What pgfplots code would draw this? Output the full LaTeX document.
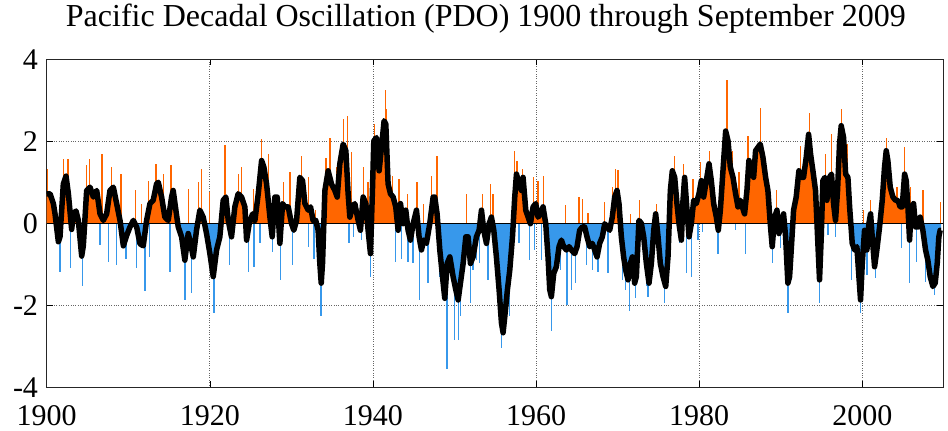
\documentclass[border=0pt]{standalone}
\usepackage{fontspec}
\setmainfont{Liberation Serif}
\usepackage{pgfplots}
\usepackage{pgfplotstable}
\pgfplotsset{compat=1.18}

\definecolor{pdoorange}{RGB}{255,102,0}
\definecolor{pdoblue}{RGB}{55,152,235}

% smoothed PDO index (black curve)
\pgfplotstableread{
year v
1900.00 0.72
1900.41 0.72
1900.82 0.48
1901.02 0.23
1901.43 -0.45
1901.63 -0.33
1902.04 0.96
1902.37 1.15
1902.66 0.72
1903.06 -0.15
1903.27 0.23
1903.59 0.30
1903.88 0.07
1904.29 -0.80
1904.49 -0.55
1904.90 0.80
1905.31 0.88
1905.72 0.64
1906.13 0.80
1906.54 0.23
1906.94 0.07
1907.35 0.23
1907.76 0.80
1908.17 0.88
1908.58 0.48
1908.99 0.07
1909.40 -0.55
1909.80 -0.30
1910.21 -0.09
1910.62 0.07
1911.03 -0.09
1911.44 -0.50
1911.84 -0.55
1912.25 0.07
1912.66 0.48
1913.06 0.56
1913.47 0.96
1913.68 1.00
1914.09 0.64
1914.49 0.15
1914.90 0.07
1915.31 0.64
1915.51 0.80
1915.84 0.32
1916.13 -0.09
1916.54 -0.33
1916.94 -0.90
1917.35 -0.25
1917.56 -0.41
1917.97 -0.82
1918.37 -0.17
1918.78 0.32
1919.19 0.15
1919.60 -0.25
1920.01 -0.74
1920.42 -1.30
1920.83 -0.65
1921.23 -0.33
1921.64 0.56
1921.97 0.64
1922.26 0.07
1922.66 -0.33
1923.07 0.40
1923.48 0.72
1923.89 0.64
1924.30 0.40
1924.51 -0.41
1924.83 -0.01
1925.24 0.23
1925.53 0.07
1925.94 0.72
1926.35 1.53
1926.63 1.37
1926.96 0.96
1927.37 0.15
1927.65 -0.33
1927.98 0.64
1928.26 0.64
1928.59 -0.49
1928.92 0.48
1929.20 0.40
1929.61 0.40
1930.02 -0.01
1930.30 -0.17
1930.64 0.07
1931.04 1.12
1931.37 1.04
1931.66 0.48
1932.07 0.32
1932.35 0.40
1932.66 0.07
1932.99 0.07
1933.28 -0.17
1933.49 -0.98
1933.66 -1.46
1933.82 -0.98
1934.11 0.80
1934.51 1.28
1934.92 0.96
1935.33 0.80
1935.62 0.64
1935.94 1.45
1936.35 1.93
1936.68 1.77
1936.96 0.72
1937.17 0.15
1937.49 0.40
1937.78 0.48
1938.19 0.07
1938.47 -0.17
1938.80 0.64
1939.13 0.48
1939.41 -0.17
1939.70 -0.74
1939.94 0.80
1940.11 2.01
1940.43 2.09
1940.76 1.28
1941.05 1.85
1941.37 2.50
1941.58 2.42
1941.86 0.96
1942.15 0.72
1942.48 0.64
1942.80 0.40
1943.09 -0.17
1943.38 0.48
1943.70 -0.01
1944.03 0.32
1944.31 -0.17
1944.60 -0.41
1944.93 -0.01
1945.34 0.32
1945.66 -0.33
1945.95 -0.65
1946.23 -0.41
1946.56 -0.49
1946.97 -0.01
1947.38 0.64
1947.58 0.64
1947.87 0.23
1948.20 -0.65
1948.53 -1.30
1948.81 -1.83
1949.10 -0.98
1949.43 -0.82
1949.83 -1.30
1950.16 -1.62
1950.45 -1.87
1950.73 -1.46
1951.06 -0.98
1951.39 -0.33
1951.67 -0.33
1951.96 -0.98
1952.28 -0.82
1952.69 -0.33
1953.02 -0.17
1953.31 0.32
1953.59 -0.17
1953.92 -0.49
1954.25 -0.01
1954.53 0.15
1954.82 -0.17
1955.14 -0.82
1955.47 -1.62
1955.76 -2.43
1955.96 -2.67
1956.17 -2.27
1956.49 -1.62
1956.78 -1.14
1957.11 -0.33
1957.39 0.64
1957.60 1.20
1957.92 0.96
1958.21 0.80
1958.41 1.12
1958.74 0.32
1959.03 0.15
1959.31 -0.01
1959.64 0.40
1959.96 0.48
1960.25 0.15
1960.54 0.23
1960.86 0.40
1961.19 -0.01
1961.47 -0.82
1961.68 -1.62
1961.88 -1.79
1962.17 -1.22
1962.49 -1.06
1962.82 -0.57
1963.11 -0.41
1963.39 -0.57
1963.72 -0.65
1964.05 -0.57
1964.33 -0.65
1964.74 -0.74
1965.03 -0.57
1965.35 -0.17
1965.68 -0.09
1965.96 -0.09
1966.25 -0.33
1966.58 -0.57
1966.90 -0.49
1967.19 -0.65
1967.48 -0.82
1967.80 -0.49
1968.13 -0.33
1968.42 -0.01
1968.70 -0.09
1969.03 -0.17
1969.35 0.15
1969.64 0.64
1969.93 0.80
1970.17 0.48
1970.46 -0.33
1970.74 -0.82
1970.99 -1.14
1971.28 -1.38
1971.56 -0.98
1971.81 -0.82
1972.09 -1.46
1972.30 -1.30
1972.62 0.07
1972.91 0.00
1973.20 -0.33
1973.53 -0.98
1973.85 -1.46
1974.14 -0.98
1974.43 -0.17
1974.67 0.23
1974.96 -0.33
1975.24 -0.98
1975.57 -1.30
1975.90 -1.54
1976.18 -0.82
1976.47 0.80
1976.71 1.28
1977.00 1.12
1977.28 0.48
1977.53 -0.01
1977.82 -0.41
1978.02 0.56
1978.22 1.12
1978.51 0.32
1978.76 -0.33
1979.04 -0.01
1979.33 0.56
1979.65 0.48
1979.98 0.72
1980.27 1.04
1980.55 0.64
1980.88 1.04
1981.21 1.45
1981.49 1.04
1981.78 0.48
1982.11 0.15
1982.35 -0.17
1982.60 0.32
1982.92 1.28
1983.25 2.25
1983.54 2.01
1983.82 1.37
1984.15 1.12
1984.47 0.72
1984.76 0.40
1985.05 0.56
1985.29 0.40
1985.57 0.23
1985.86 0.80
1986.10 1.53
1986.39 1.37
1986.68 1.12
1986.92 1.77
1987.21 1.85
1987.49 1.93
1987.82 1.61
1988.15 1.12
1988.43 0.80
1988.72 -0.01
1988.96 -0.57
1989.25 0.15
1989.54 0.32
1989.78 -0.25
1990.07 -0.01
1990.35 0.23
1990.60 -0.33
1990.88 -1.46
1991.09 -1.30
1991.29 -0.65
1991.58 0.32
1991.90 0.64
1992.23 1.28
1992.52 1.12
1992.80 1.12
1993.13 1.61
1993.42 2.17
1993.66 1.69
1993.95 1.28
1994.27 0.80
1994.52 -0.33
1994.76 -1.38
1994.97 -0.33
1995.17 1.04
1995.42 1.12
1995.66 0.56
1995.99 1.12
1996.23 1.20
1996.48 0.48
1996.72 0.07
1996.97 0.80
1997.21 1.93
1997.42 2.38
1997.71 2.09
1997.96 1.20
1998.24 1.12
1998.45 0.40
1998.77 -0.49
1999.06 -0.65
1999.34 -0.57
1999.59 -1.30
1999.79 -1.87
2000.00 -0.98
2000.28 -0.17
2000.57 -0.65
2000.81 -0.01
2001.02 0.23
2001.22 -0.33
2001.51 -1.06
2001.79 -0.65
2002.12 -0.09
2002.45 0.56
2002.73 1.37
2002.94 1.77
2003.14 1.53
2003.43 0.88
2003.76 0.64
2004.08 0.56
2004.37 0.56
2004.65 0.40
2004.90 0.40
2005.19 1.20
2005.39 1.04
2005.60 0.40
2005.80 -0.41
2006.00 0.32
2006.29 0.48
2006.53 -0.09
2006.82 -0.09
2007.10 0.15
2007.43 -0.17
2007.76 -0.65
2008.04 -0.90
2008.33 -1.30
2008.66 -1.54
2008.94 -1.46
2009.19 -0.98
2009.39 -0.33
2009.55 -0.17
2009.67 -0.17
}\smoothpdo

% monthly peaks above zero (orange spikes)
\pgfplotstableread{
year v
1900.10 1.33
1902.05 1.57
1902.60 1.57
1904.90 1.41
1905.25 1.57
1906.78 1.69
1907.97 1.37
1909.10 1.20
1910.85 0.80
1911.64 0.48
1912.46 1.04
1913.40 1.45
1914.29 1.20
1915.23 1.41
1917.35 0.84
1918.58 1.00
1918.99 1.33
1919.93 0.76
1921.85 1.90
1923.48 1.20
1923.89 1.37
1925.32 0.84
1926.35 2.05
1927.16 1.69
1929.00 1.00
1929.82 1.24
1931.25 1.65
1932.06 1.13
1933.00 0.32
1934.23 1.60
1934.72 2.09
1935.54 1.37
1936.43 2.54
1936.84 2.62
1937.37 1.73
1938.88 1.37
1939.41 1.00
1940.23 2.42
1941.54 3.26
1941.66 2.78
1942.39 1.16
1943.21 1.08
1944.23 0.72
1945.42 1.00
1946.23 0.48
1947.17 1.16
1947.87 1.65
1951.47 0.72
1953.43 0.72
1954.41 0.96
1954.74 0.72
1957.39 1.77
1957.68 1.53
1958.33 1.33
1959.72 1.12
1960.25 1.04
1960.95 1.16
1963.64 0.44
1965.27 0.64
1965.68 0.60
1966.37 0.25
1968.42 0.52
1969.36 0.88
1969.76 1.33
1970.05 1.29
1971.56 0.22
1972.71 0.56
1974.75 0.48
1977.00 1.65
1978.10 1.45
1979.25 1.08
1980.14 1.49
1981.29 1.77
1982.51 0.88
1983.41 3.50
1984.07 1.77
1984.88 1.24
1985.99 2.13
1987.49 2.82
1988.15 1.41
1989.45 0.80
1992.39 1.89
1993.54 2.70
1995.50 1.69
1996.19 2.17
1997.42 2.78
1998.11 1.93
2000.16 0.32
2000.98 0.56
2002.04 0.23
2002.94 2.09
2004.25 0.88
2005.19 1.85
2005.88 0.88
2007.43 0.80
2009.56 0.52
}\pospeaks

% monthly troughs below zero (blue spikes)
\pgfplotstableread{
year v
1901.63 -1.18
1902.94 -1.10
1904.41 -1.54
1906.54 -0.53
1907.56 -0.94
1908.58 -1.02
1909.72 -0.86
1911.03 -1.10
1912.05 -1.65
1912.58 -0.82
1915.11 -1.18
1916.94 -1.87
1917.76 -1.70
1920.50 -2.19
1922.38 -1.02
1924.71 -1.20
1925.41 -1.06
1926.14 -0.49
1927.69 -0.69
1928.67 -1.38
1930.14 -1.02
1932.06 -0.57
1932.76 -0.86
1933.62 -2.27
1937.05 -0.49
1937.66 -0.33
1938.60 -0.41
1939.70 -1.30
1942.80 -0.94
1943.50 -0.86
1944.31 -0.94
1944.93 -0.98
1945.74 -1.87
1946.77 -1.46
1948.20 -1.30
1949.09 -3.56
1950.04 -2.84
1950.45 -2.84
1950.73 -2.27
1951.96 -1.95
1952.28 -1.14
1952.69 -0.90
1953.10 -0.98
1954.12 -1.38
1955.76 -3.04
1956.78 -2.27
1957.92 -0.49
1959.23 -0.90
1959.84 -0.65
1960.66 -0.90
1961.88 -2.63
1962.29 -1.38
1962.98 -1.14
1963.80 -1.99
1964.33 -1.62
1964.86 -1.46
1966.17 -1.02
1966.90 -1.14
1967.60 -1.18
1968.82 -1.22
1970.58 -1.38
1970.99 -1.62
1971.48 -2.15
1972.21 -1.83
1973.60 -1.54
1973.73 -1.79
1975.77 -1.95
1977.61 -0.49
1978.43 -1.22
1979.04 -1.30
1979.86 -0.41
1980.39 -0.21
1982.31 -0.74
1984.47 -0.17
1985.70 -0.74
1988.96 -0.98
1989.94 -0.61
1990.88 -2.19
1991.29 -1.38
1994.76 -1.95
1995.79 -0.29
1996.72 -0.33
1998.65 -1.38
1999.75 -2.19
2000.57 -1.26
2001.63 -1.34
2004.78 -0.61
2005.80 -1.46
2006.62 -0.94
2007.76 -1.42
2008.86 -1.75
}\negpeaks

\begin{document}
\begin{tikzpicture}
\begin{axis}[
  name=ax,
  scale only axis,
  width=896.3bp, height=328bp,
  xmin=1900, xmax=2009.9,
  ymin=-4, ymax=4,
  xtick={1900,1920,1940,1960,1980,2000},
  xticklabels={1900,1920,1940,1960,1980,2000},
  ytick={-4,-2,0,2,4},
  yticklabels={-4,-2,0,2,4},
  tick pos=both,
  tick align=inside,
  major tick length=6bp,
  tick style={black, line width=0.6bp},
  grid=major,
  major grid style={dotted, black!60, line width=0.8bp},
  axis line style={black!85, line width=0.9bp},
  font=\fontsize{30bp}{36bp}\selectfont,
  xticklabel style={anchor=north, inner sep=0pt, yshift=-18.5bp},
  yticklabel style={anchor=east, inner sep=0pt, xshift=-8.5bp},
  title={Pacific Decadal Oscillation (PDO) 1900 through September 2009},
  title style={font=\fontsize{32bp}{38bp}\selectfont, anchor=base,
    at={(0.5,1)}, yshift=27.3bp, xshift=-9bp},
]
\addplot[fill=pdoorange, draw=none]
  table[x=year, y expr={max(\thisrow{v},0)}] {\smoothpdo} \closedcycle;
\addplot[fill=pdoblue, draw=none]
  table[x=year, y expr={min(\thisrow{v},0)}] {\smoothpdo} \closedcycle;
\addplot[ycomb, pdoorange, line width=1.3bp] table[x=year, y=v] {\pospeaks};
\addplot[ycomb, pdoblue, line width=1.3bp] table[x=year, y=v] {\negpeaks};
\addplot[black, line width=0.8bp] coordinates {(1900,0) (2009.9,0)};
\addplot[black, line width=5.5bp, line join=round] table[x=year, y=v] {\smoothpdo};
\end{axis}
\pgfresetboundingbox
\path ([xshift=-46.7bp, yshift=-43.7bp]ax.south west)
  rectangle ([xshift=5bp, yshift=59.3bp]ax.north east);
\end{tikzpicture}
\end{document}
